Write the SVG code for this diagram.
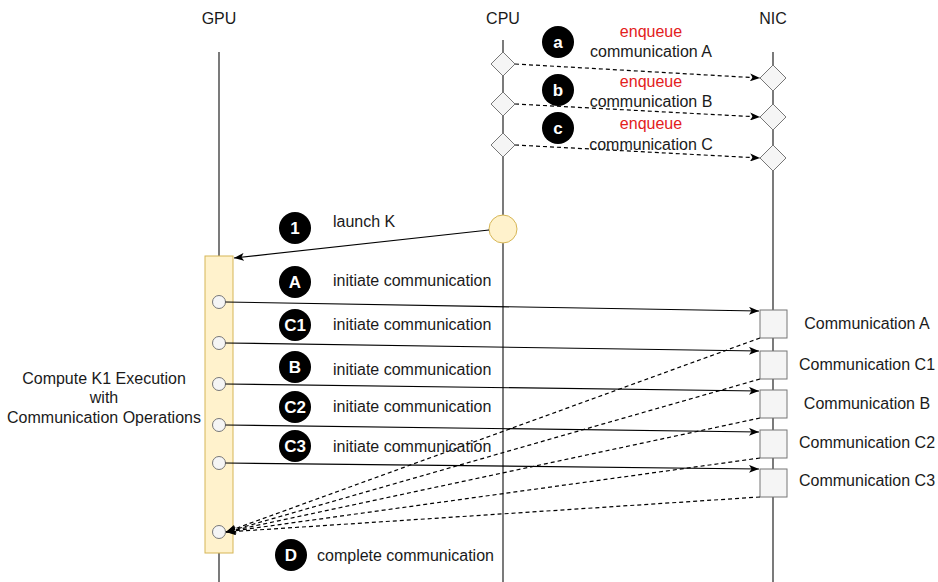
<svg xmlns="http://www.w3.org/2000/svg" width="938" height="582" viewBox="0 0 938 582">
<style>
text{font-family:"Liberation Sans",Arial,Helvetica,sans-serif;font-size:16px;fill:#1a1a1a}
.hdr{font-size:16px;text-anchor:middle}
.mid{text-anchor:middle}
.red{fill:#e3211c}
.life{stroke:#333;stroke-width:1.3;fill:none}
.dia{fill:#f5f5f5;stroke:#777;stroke-width:1}
.nbox{fill:#f5f5f5;stroke:#777;stroke-width:1}
.badge{fill:#000}
.btxt{fill:#fff;font-weight:bold;font-size:17px;text-anchor:middle}
.msg{stroke:#000;stroke-width:1.2;fill:none;marker-end:url(#arr)}
.dash{stroke:#000;stroke-width:1.2;fill:none;stroke-dasharray:4 3;marker-end:url(#arr)}
.port{fill:#f5f5f5;stroke:#777;stroke-width:1}
</style>
<defs>
<marker id="arr" markerUnits="userSpaceOnUse" viewBox="0 0 10 8" refX="10" refY="4" markerWidth="10" markerHeight="8" orient="auto">
<path d="M0,0 L10,4 L0,8 L2.5,4 Z" fill="#000"/>
</marker>
</defs>
<rect width="938" height="582" fill="#fff"/>

<g id="gpu-lifeline">
<text class="hdr" x="219" y="24">GPU</text>
<line class="life" x1="219" y1="52" x2="219" y2="256"/>
<line class="life" x1="219" y1="553" x2="219" y2="582"/>
</g>
<g id="cpu-lifeline">
<text class="hdr" x="503" y="24">CPU</text>
<line class="life" x1="503" y1="40" x2="503" y2="582"/>
</g>
<g id="nic-lifeline">
<text class="hdr" x="773" y="24">NIC</text>
<line class="life" x1="773" y1="52" x2="773" y2="582"/>
</g>

<g id="cpu-diamonds">
<path class="dia" d="M503,52 L515,64 L503,76 L491,64 Z"/>
<path class="dia" d="M503,92 L515,104 L503,116 L491,104 Z"/>
<path class="dia" d="M503,133 L515,145 L503,157 L491,145 Z"/>
</g>
<g id="nic-diamonds">
<path class="dia" d="M773,65 L786,78 L773,91 L760,78 Z"/>
<path class="dia" d="M773,104 L786,117 L773,130 L760,117 Z"/>
<path class="dia" d="M773,145 L786,158 L773,171 L760,158 Z"/>
</g>

<g id="launch-node">
<circle cx="503" cy="229" r="14" fill="#fff2cc" stroke="#d6b656" stroke-width="1"/>
</g>

<g id="gpu-activation">
<rect x="205" y="256" width="28" height="297" fill="#fff2cc" stroke="#d6b656" stroke-width="1"/>
<circle class="port" cx="219" cy="302" r="6.5"/>
<circle class="port" cx="219" cy="343" r="6.5"/>
<circle class="port" cx="219" cy="384" r="6.5"/>
<circle class="port" cx="219" cy="425" r="6.5"/>
<circle class="port" cx="219" cy="463" r="6.5"/>
<circle class="port" cx="219" cy="532" r="6.5"/>
</g>

<g id="nic-boxes">
<rect class="nbox" x="760" y="310" width="27" height="28"/>
<rect class="nbox" x="760" y="351" width="27" height="28"/>
<rect class="nbox" x="760" y="390" width="27" height="28"/>
<rect class="nbox" x="760" y="430" width="27" height="28"/>
<rect class="nbox" x="760" y="469" width="27" height="28"/>
</g>

<g id="connectors">
<line class="dash" x1="515" y1="64" x2="760" y2="78"/>
<line class="dash" x1="515" y1="104" x2="760" y2="117"/>
<line class="dash" x1="515" y1="145" x2="760" y2="158"/>
<line class="msg" x1="489" y1="230" x2="234" y2="258"/>
<line class="msg" x1="225.5" y1="302" x2="759" y2="311"/>
<line class="msg" x1="225.5" y1="343" x2="759" y2="351"/>
<line class="msg" x1="225.5" y1="384" x2="759" y2="391"/>
<line class="msg" x1="225.5" y1="425" x2="759" y2="432"/>
<line class="msg" x1="225.5" y1="463" x2="759" y2="469"/>
<line class="dash" x1="760" y1="338" x2="226" y2="532"/>
<line class="dash" x1="760" y1="379" x2="226" y2="532"/>
<line class="dash" x1="760" y1="418" x2="226" y2="532"/>
<line class="dash" x1="760" y1="458" x2="226" y2="532"/>
<line class="dash" x1="760" y1="497" x2="226" y2="532"/>
</g>

<g id="step-a">
<circle class="badge" cx="558" cy="42" r="16"/><text class="btxt" x="558" y="48">a</text>
<text class="mid red" x="651" y="37">enqueue</text>
<text class="mid" x="651" y="57">communication A</text>
</g>
<g id="step-b">
<circle class="badge" cx="558" cy="90" r="16"/><text class="btxt" x="558" y="96">b</text>
<text class="mid red" x="651" y="87">enqueue</text>
<text class="mid" x="651" y="107">communication B</text>
</g>
<g id="step-c">
<circle class="badge" cx="558" cy="128" r="16"/><text class="btxt" x="558" y="134">c</text>
<text class="mid red" x="651" y="129">enqueue</text>
<text class="mid" x="651" y="150">communication C</text>
</g>

<g id="step-1">
<circle class="badge" cx="295" cy="228" r="16"/><text class="btxt" x="295" y="234">1</text>
<text x="333" y="227">launch K</text>
</g>
<g id="step-A">
<circle class="badge" cx="295" cy="282" r="16"/><text class="btxt" x="295" y="288">A</text>
<text x="333" y="286">initiate communication</text>
</g>
<g id="step-C1">
<circle class="badge" cx="295" cy="325" r="16"/><text class="btxt" x="295" y="331">C1</text>
<text x="333" y="330">initiate communication</text>
</g>
<g id="step-B">
<circle class="badge" cx="295" cy="367" r="16"/><text class="btxt" x="295" y="373">B</text>
<text x="333" y="375">initiate communication</text>
</g>
<g id="step-C2">
<circle class="badge" cx="295" cy="407" r="16"/><text class="btxt" x="295" y="413">C2</text>
<text x="333" y="412">initiate communication</text>
</g>
<g id="step-C3">
<circle class="badge" cx="295" cy="446" r="16"/><text class="btxt" x="295" y="452">C3</text>
<text x="333" y="452">initiate communication</text>
</g>
<g id="step-D">
<circle class="badge" cx="291" cy="555" r="16"/><text class="btxt" x="291" y="561">D</text>
<text x="317" y="561">complete communication</text>
</g>

<g id="nic-labels">
<text class="mid" x="867" y="329">Communication A</text>
<text class="mid" x="867" y="370">Communication C1</text>
<text class="mid" x="867" y="409">Communication B</text>
<text class="mid" x="867" y="448">Communication C2</text>
<text class="mid" x="867" y="486">Communication C3</text>
</g>

<g id="gpu-label">
<text class="mid" x="104" y="384">Compute K1 Execution</text>
<text class="mid" x="104" y="403">with</text>
<text class="mid" x="104" y="423">Communication Operations</text>
</g>
</svg>
